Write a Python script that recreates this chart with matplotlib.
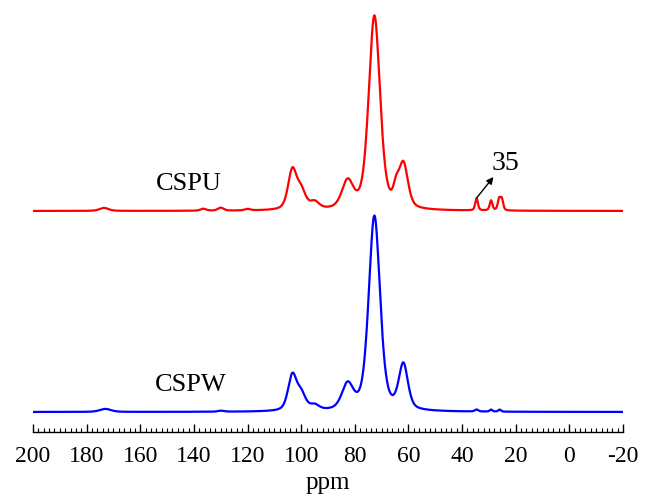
import numpy as np
import matplotlib
matplotlib.use('Agg')
from matplotlib import pyplot as plt
from matplotlib.ticker import MultipleLocator

plt.rcParams['font.family'] = ['Liberation Serif', 'DejaVu Serif']
plt.rcParams['axes.unicode_minus'] = False

# peak list for each spectrum: centre (ppm), height (a.u.), FWHM (ppm)
cspu_pos = [173.5, 136.5, 130.0, 120.0, 103.3, 100.0, 95.0, 82.7, 72.7, 64.6, 61.9, 34.6, 29.2, 26.2, 25.2]
cspu_hgt = [3.0, 2.0, 3.0, 1.5, 39.0, 18.0, 7.0, 27.0, 194.0, 14.0, 44.0, 12.0, 10.0, 11.0, 11.0]
cspu_fwhm = [4.0, 2.5, 2.5, 2.5, 3.8, 4.0, 4.0, 5.0, 5.0, 2.5, 4.0, 1.2, 1.2, 1.2, 1.2]

cspw_pos = [173.0, 130.0, 103.3, 100.0, 95.0, 82.7, 72.7, 61.9, 34.6, 29.2, 26.0]
cspw_hgt = [3.0, 1.0, 35.0, 16.0, 5.0, 25.0, 195.0, 45.0, 2.0, 2.0, 2.0]
cspw_fwhm = [5.0, 2.5, 3.8, 4.0, 4.0, 5.0, 5.0, 4.0, 1.5, 1.2, 1.2]

offset = 201.0
ppm = np.linspace(200, -20, 4000)


def spectrum(pos, hgt, fwhm, eta=0.45):
    y = np.zeros_like(ppm)
    for c, h, w in zip(pos, hgt, fwhm):
        g = np.exp(-4 * np.log(2) * ((ppm - c) / w) ** 2)
        l = 1.0 / (1.0 + 4 * ((ppm - c) / w) ** 2)
        y += h * (eta * l + (1 - eta) * g)
    return y


fig = plt.figure(figsize=(6.46, 5.04), dpi=100)
ax = fig.add_axes([33 / 646, 72 / 504, 590 / 646, 427 / 504])

ax.plot(ppm, spectrum(cspu_pos, cspu_hgt, cspu_fwhm) + offset, color='#ff0000', lw=1.6)
ax.plot(ppm, spectrum(cspw_pos, cspw_hgt, cspw_fwhm), color='#0000ff', lw=1.6)

ax.text(142.0, offset + 27, 'CSPU', fontsize=19, ha='center', va='center')
ax.text(141.3, 27, 'CSPW', fontsize=19, ha='center', va='center')
ax.annotate('', xy=(28.3, offset + 34), xytext=(34.6, offset + 13),
            arrowprops=dict(arrowstyle='-|>', color='black', lw=1, mutation_scale=10,
                            shrinkA=0, shrinkB=0))
ax.text(24.0, offset + 48, '35', fontsize=20, ha='center', va='center')

ax.set_xlim(200, -20)
ax.set_ylim(-20, 407)
ax.set_xticks(np.arange(200, -21, -20))
ax.xaxis.set_minor_locator(MultipleLocator(2))
ax.tick_params(axis='x', which='major', direction='in', length=6, width=1, labelsize=17, pad=10)
ax.tick_params(axis='x', which='minor', direction='in', length=3, width=0.8)
ax.set_yticks([])
for s in ['left', 'right', 'top']:
    ax.spines[s].set_visible(False)
ax.spines['bottom'].set_linewidth(1)
ax.set_xlabel('ppm', fontsize=18, labelpad=4)

plt.savefig('out.png', dpi=100)
